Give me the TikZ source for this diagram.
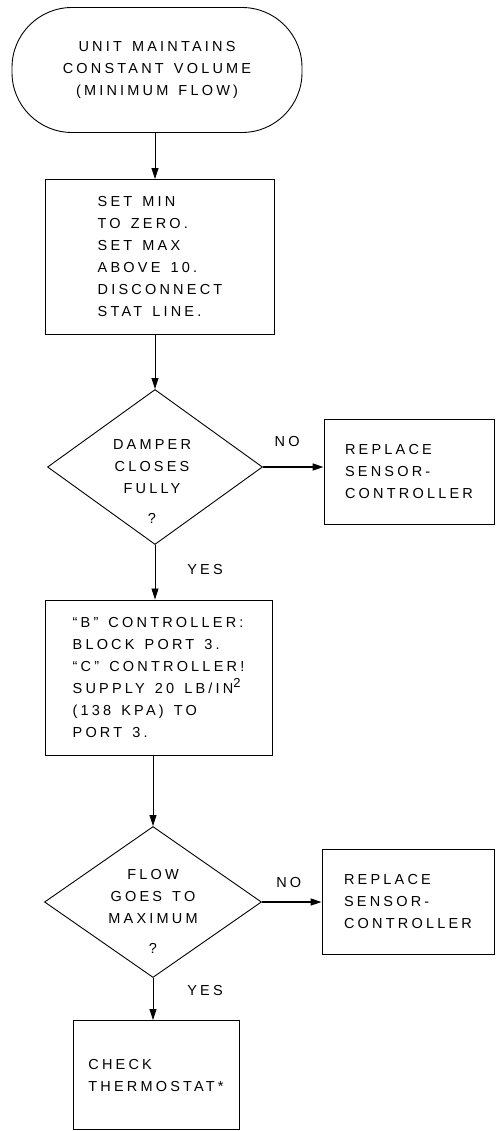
\documentclass[tikz,border=0pt]{standalone}
\usepackage{fontspec}
\setmainfont{Liberation Sans}[LetterSpace=22,WordSpace=1.4]
\usetikzlibrary{arrows.meta,shapes.geometric}

\begin{document}
\begin{tikzpicture}[
  x=1pt, y=-1pt,
  font=\fontsize{14.5pt}{22pt}\selectfont,
  >={Triangle[length=11pt,width=7pt]},
  box/.style={draw, line width=0.9pt, inner sep=0pt, align=left},
  terminal/.style={draw, line width=0.9pt, rounded corners=60pt,
    minimum width=290pt, minimum height=125pt, align=center},
  decision/.style={draw, diamond, line width=0.9pt, inner sep=0pt},
  dtext/.style={align=center, inner sep=0pt},
  arrow/.style={->, line width=0.8pt},
  harrow/.style={->, line width=1.3pt},
  tag/.style={inner sep=0pt}
]
\useasboundingbox (0,0) rectangle (495,1131);

% ── Start ──────────────────────────────────────────────────────────────────
\node[terminal] (start) at (157,70)
  {UNIT MAINTAINS\\CONSTANT VOLUME\\(MINIMUM FLOW)};

% ── Reset the set points ───────────────────────────────────────────────────
\node[box, minimum width=229pt, minimum height=155pt] (setpts) at (160,257)
  {SET MIN\\TO ZERO.\\SET MAX\\ABOVE 10.\\DISCONNECT\\STAT LINE.\hspace*{10pt}};

% ── First check: damper ────────────────────────────────────────────────────
\node[decision, minimum width=215pt, minimum height=155pt] (damper) at (155,467) {};
\node[dtext] (dampertxt) at (152,482) {DAMPER\\CLOSES\\FULLY\\[8pt]?};
\node[box, minimum width=170pt, minimum height=105pt] (replaceA) at (409,471.5)
  {REPLACE\\SENSOR-\\CONTROLLER};

% ── Port 3 test ────────────────────────────────────────────────────────────
\node[box, minimum width=227pt, minimum height=155pt] (port) at (158.5,677.5)
  {“B” CONTROLLER:\\BLOCK PORT 3.\\“C” CONTROLLER!\\SUPPLY 20 LB/IN\raisebox{6pt}{\fontsize{13pt}{13pt}\selectfont 2}\\(138 KPA) TO\\PORT 3.};

% ── Second check: flow ─────────────────────────────────────────────────────
\node[decision, minimum width=217pt, minimum height=151pt] (flow) at (153,902) {};
\node[dtext] (flowtxt) at (153,911) {FLOW\\GOES TO\\MAXIMUM\\[8pt]?};
\node[box, minimum width=172pt, minimum height=105pt] (replaceB) at (408,901.5)
  {REPLACE\\SENSOR-\\CONTROLLER};

% ── End ────────────────────────────────────────────────────────────────────
\node[box, minimum width=166pt, minimum height=109pt] (stat) at (156,1075)
  {\\[-10pt]CHECK\\THERMOSTAT*};

% ── Arrows ─────────────────────────────────────────────────────────────────
\draw[arrow] (start.south -| 155,0) -- (setpts.north -| 155,0);
\draw[arrow] (setpts.south -| 155,0) -- (damper.north);
\draw[harrow] (damper.east) -- node[tag, above=20pt, pos=0.4]{NO} (damper.east -| replaceA.west);
\draw[arrow] (damper.south) -- node[tag, right=32pt, pos=0.45]{YES} (damper.south |- port.north);
\draw[arrow] (port.south -| flow.north) -- (flow.north);
\draw[harrow] (flow.east) -- node[tag, above=14pt, pos=0.45]{NO} (flow.east -| replaceB.west);
\draw[arrow] (flow.south) -- node[tag, right=34pt, pos=0.3]{YES} (flow.south |- stat.north);

\end{tikzpicture}
\end{document}
